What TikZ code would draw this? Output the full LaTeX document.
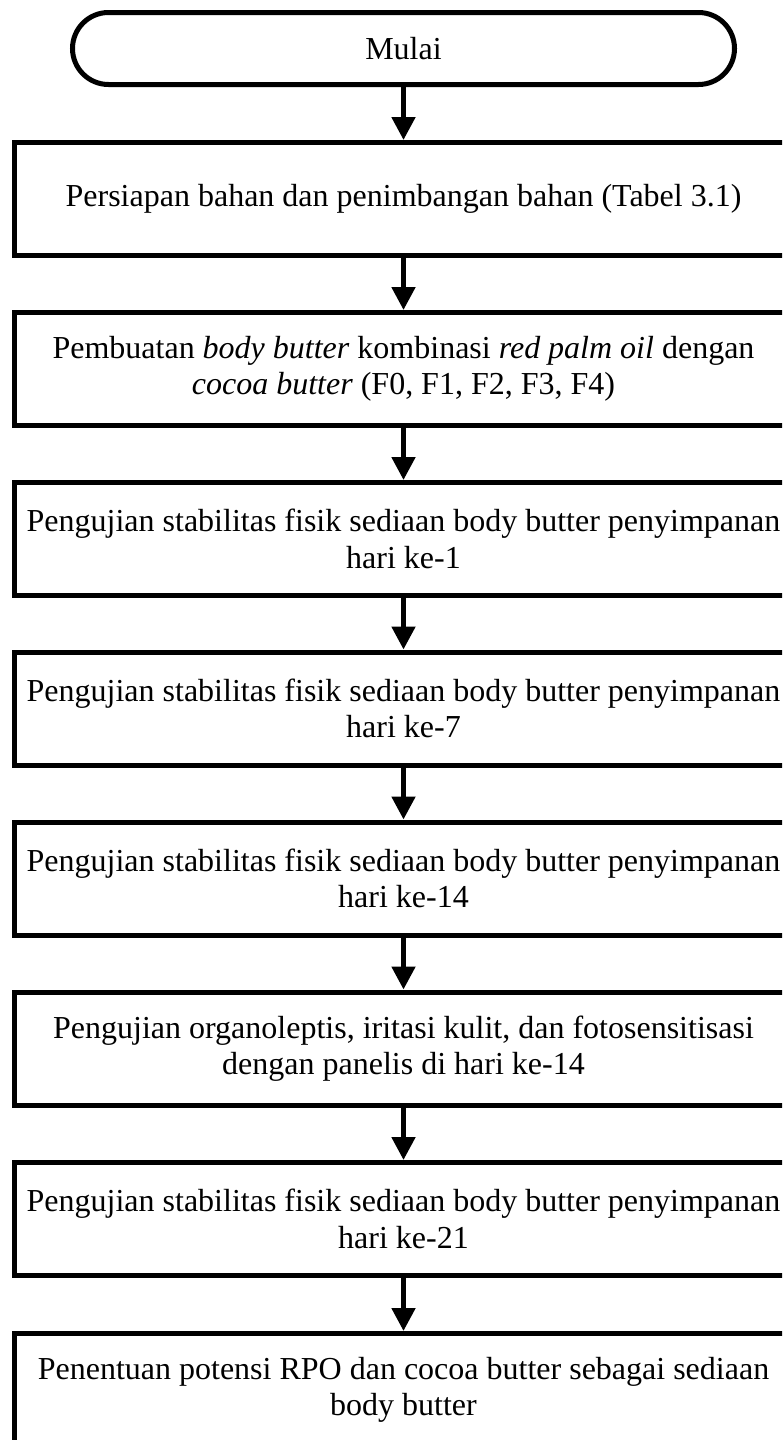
\documentclass[tikz,border=0pt]{standalone}
\usepackage{fontspec}
\setmainfont{Liberation Serif}
\usetikzlibrary{arrows.meta}
\begin{document}
\begin{tikzpicture}[x=0.5pt,y=-0.5pt,
  every node/.style={font=\fontsize{16}{18.2}\selectfont, align=center, inner sep=0pt},
  stepbox/.style={draw, line width=2.5pt, rectangle, minimum width=389pt, minimum height=56.5pt},
  termbox/.style={draw, line width=2.5pt, rectangle, rounded corners=18pt, minimum width=331pt, minimum height=36pt},
  flow/.style={line width=2.5pt, -{Triangle[width=11.5pt,length=11.5pt]}}]
\useasboundingbox (0,0) rectangle (782,1440);
\clip (0,0) rectangle (782,1440);
\fill[white] (0,0) rectangle (782,1440);
\node[termbox] (t) at (403.5,48.5) {Mulai};
\node[stepbox] (b1) at (403.5,199) {Persiapan bahan dan penimbangan bahan (Tabel 3.1)};
\node[stepbox] (b2) at (403.5,369) {Pembuatan \textit{body butter} kombinasi \textit{red palm oil} dengan\\ \textit{cocoa butter} (F0, F1, F2, F3, F4)};
\node[stepbox] (b3) at (403.5,539) {Pengujian stabilitas fisik sediaan body butter penyimpanan\\ hari ke-1};
\node[stepbox] (b4) at (403.5,708.5) {Pengujian stabilitas fisik sediaan body butter penyimpanan\\ hari ke-7};
\node[stepbox] (b5) at (403.5,878.5) {Pengujian stabilitas fisik sediaan body butter penyimpanan\\ hari ke-14};
\node[stepbox] (b6) at (403.5,1048.5) {Pengujian organoleptis, iritasi kulit, dan fotosensitisasi\\ dengan panelis di hari ke-14};
\node[stepbox] (b7) at (403.5,1219) {Pengujian stabilitas fisik sediaan body butter penyimpanan\\ hari ke-21};
\node[stepbox] (b8) at (403.5,1390) {Penentuan potensi RPO dan cocoa butter sebagai sediaan\\ body butter};
\draw[flow] (t) -- (b1);
\draw[flow] (b1) -- (b2);
\draw[flow] (b2) -- (b3);
\draw[flow] (b3) -- (b4);
\draw[flow] (b4) -- (b5);
\draw[flow] (b5) -- (b6);
\draw[flow] (b6) -- (b7);
\draw[flow] (b7) -- (b8);
\end{tikzpicture}
\end{document}
